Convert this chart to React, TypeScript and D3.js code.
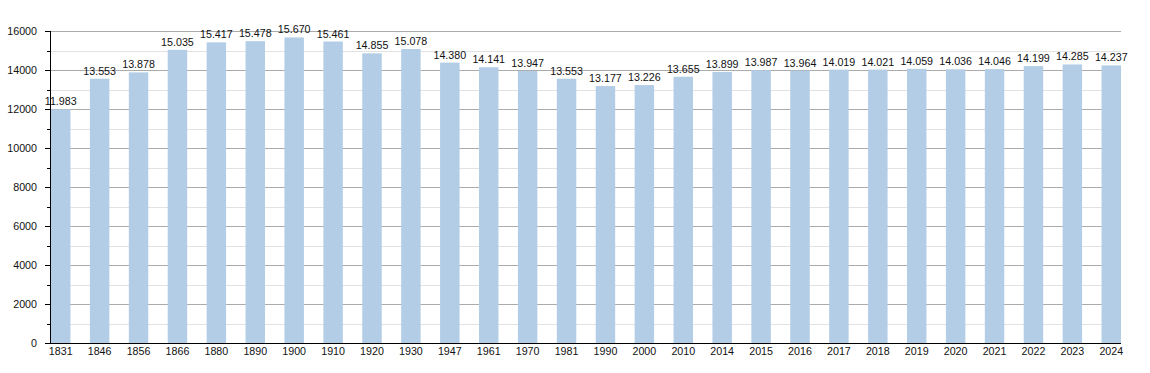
import React, { useEffect, useRef } from 'react';
import * as d3 from 'd3';

const years = ['1831', '1846', '1856', '1866', '1880', '1890', '1900', '1910', '1920', '1930', '1947', '1961', '1970', '1981', '1990', '2000', '2010', '2014', '2015', '2016', '2017', '2018', '2019', '2020', '2021', '2022', '2023', '2024'];
const population = [11983, 13553, 13878, 15035, 15417, 15478, 15670, 15461, 14855, 15078, 14380, 14141, 13947, 13553, 13177, 13226, 13655, 13899, 13987, 13964, 14019, 14021, 14059, 14036, 14046, 14199, 14285, 14237];
const majorTicks = [0, 2000, 4000, 6000, 8000, 10000, 12000, 14000, 16000];
const minorTicks = [1000, 3000, 5000, 7000, 9000, 11000, 13000, 15000];

// italian style thousands: 13.553
const fmt = (v: number) => d3.format(',')(v).replace(/,/g, '.');

const App: React.FC = () => {
  const svgRef = useRef<SVGSVGElement>(null);

  useEffect(() => {
    if (!svgRef.current) return;
    const width = 1150;
    const height = 373;
    const svg = d3.select(svgRef.current);
    svg.selectAll('*').remove();
    svg.attr('width', width).attr('height', height);

    const left = 50, right = 1121, top = 31, bottom = 343;

    const x = d3.scaleBand<string>()
      .domain(years)
      .range([left + 1, right])
      .paddingInner(0.5)
      .paddingOuter(0);

    const y = d3.scaleLinear().domain([0, 16000]).range([bottom, top]);

    const font = 'Liberation Sans, Arial, sans-serif';
    const fs = '10.7px';

    // grid
    svg.append('g').selectAll('line.minor')
      .data(minorTicks).enter().append('line')
      .attr('x1', left).attr('x2', right)
      .attr('y1', d => Math.round(y(d)) + 0.5).attr('y2', d => Math.round(y(d)) + 0.5)
      .attr('stroke', '#e2e2e2').attr('stroke-width', 1);

    svg.append('g').selectAll('line.major')
      .data(majorTicks.filter(d => d > 0)).enter().append('line')
      .attr('x1', left).attr('x2', right)
      .attr('y1', d => Math.round(y(d)) + 0.5).attr('y2', d => Math.round(y(d)) + 0.5)
      .attr('stroke', '#ababab').attr('stroke-width', 1);

    // bars
    svg.append('g').selectAll('rect')
      .data(population).enter().append('rect')
      .attr('x', (d, i) => x(years[i])!)
      .attr('width', x.bandwidth())
      .attr('y', d => y(d))
      .attr('height', d => bottom - y(d))
      .attr('fill', '#b3cde6');

    // value labels
    svg.append('g').selectAll('text')
      .data(population).enter().append('text')
      .attr('x', (d, i) => x(years[i])! + x.bandwidth() / 2)
      .attr('y', d => y(d) - 4)
      .attr('text-anchor', 'middle')
      .attr('font-family', font)
      .attr('font-size', fs)
      .attr('fill', '#111')
      .text(d => fmt(d));

    // axes
    svg.append('line')
      .attr('x1', left + 0.5).attr('x2', left + 0.5)
      .attr('y1', top).attr('y2', bottom + 0.5)
      .attr('stroke', '#000');
    svg.append('line')
      .attr('x1', left).attr('x2', right)
      .attr('y1', bottom + 0.5).attr('y2', bottom + 0.5)
      .attr('stroke', '#000');

    svg.append('g').selectAll('line')
      .data(majorTicks).enter().append('line')
      .attr('x1', left - 5).attr('x2', left)
      .attr('y1', d => Math.round(y(d)) + 0.5).attr('y2', d => Math.round(y(d)) + 0.5)
      .attr('stroke', '#000');
    svg.append('g').selectAll('line')
      .data(minorTicks).enter().append('line')
      .attr('x1', left - 3).attr('x2', left)
      .attr('y1', d => Math.round(y(d)) + 0.5).attr('y2', d => Math.round(y(d)) + 0.5)
      .attr('stroke', '#000');

    svg.append('g').selectAll('text')
      .data(majorTicks).enter().append('text')
      .attr('x', left - 13)
      .attr('y', d => y(d))
      .attr('dy', '0.35em')
      .attr('text-anchor', 'end')
      .attr('font-family', font)
      .attr('font-size', fs)
      .attr('fill', '#111')
      .text(d => String(d));

    svg.append('g').selectAll('text')
      .data(years).enter().append('text')
      .attr('x', d => x(d)! + x.bandwidth() / 2)
      .attr('y', bottom + 12)
      .attr('text-anchor', 'middle')
      .attr('font-family', font)
      .attr('font-size', fs)
      .attr('fill', '#111')
      .text(d => d);
  }, []);

  return (
    <div style={{ position: 'absolute', left: 0, top: 0 }}>
      <svg ref={svgRef}></svg>
    </div>
  );
};

export default App;
